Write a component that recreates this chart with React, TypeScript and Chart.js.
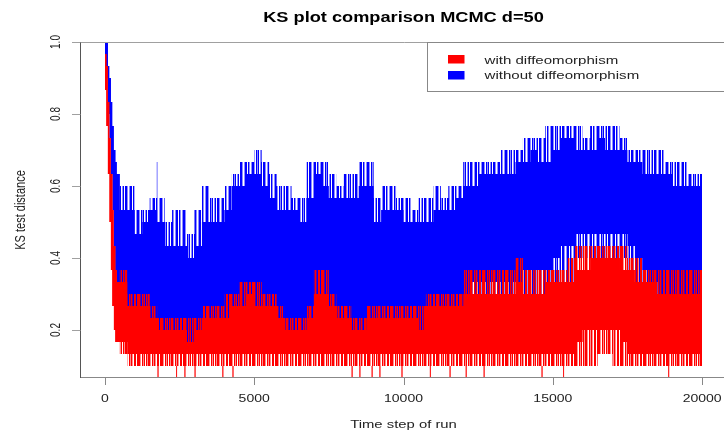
import React, { useEffect, useRef } from "react";
import { Chart, registerables } from "chart.js";

Chart.register(...registerables);

// ---------- text ----------
const TITLE = "KS plot comparison MCMC d=50";
const X_LABEL = "Time step of run";
const Y_LABEL = "KS test distance";
const SERIES_NAMES = ["with diffeomorphism", "without diffeomorphism"];
const SERIES_COLORS = ["#FF0000", "#0000FF"];

// ---------- axes ----------
const X_TICKS = [0, 5000, 10000, 15000, 20000];
const Y_TICKS = [0.2, 0.4, 0.6, 0.8, 1.0];
const X_MIN = -800;
const X_MAX = 20800;
const Y_MIN = 2 / 30;
const Y_MAX = 1.0;

// KS distances of a 30-sample test are multiples of 1/30; values below are counts k (distance = k/30)
const SAMPLE_N = 30;
const LAST_STEP = 20000;

// time step where each block of the trace starts (the trace is read block by block)
const STEPS = [
  0, 50, 100, 150, 200, 250, 300, 350, 400, 450,
  500, 750, 1000, 1250, 1500, 1750, 2000, 2250, 2500, 2750,
  3000, 3250, 3500, 3750, 4000, 4250, 4500, 4750, 5000, 5250,
  5500, 5750, 6000, 6250, 6500, 6750, 7000, 7250, 7500, 7750,
  8000, 8250, 8500, 8750, 9000, 9250, 9500, 9750, 10000, 10250,
  10500, 10750, 11000, 11250, 11500, 11750, 12000, 12250, 12500, 12750,
  13000, 13250, 13500, 13750, 14000, 14250, 14500, 14750, 15000, 15250,
  15500, 15750, 16000, 16250, 16500, 16750, 17000, 17250, 17500, 17750,
  18000, 18250, 18500, 18750, 19000, 19250, 19500, 19750,
];

// "without diffeomorphism" (blue): highest / dense-top / dense-bottom / lowest level in each block
const BLUE_MAX = [
  30, 30, 28, 27, 25, 23, 21, 20, 19, 19,
  18, 18, 16, 16, 17, 17, 15, 16, 16, 14,
  16, 18, 17, 17, 18, 19, 20, 20, 21, 20,
  19, 18, 18, 17, 17, 20, 20, 20, 19, 18,
  19, 19, 20, 20, 17, 18, 18, 17, 17, 16,
  17, 17, 18, 17, 18, 18, 20, 20, 20, 20,
  20, 21, 21, 21, 22, 22, 22, 23, 23, 23,
  23, 23, 22, 23, 23, 23, 23, 22, 21, 21,
  21, 21, 21, 20, 20, 20, 19, 19,
];
const BLUE_HIGH = [
  30, 30, 28, 27, 25, 23, 21, 20, 19, 19,
  16, 16, 14, 15, 16, 15, 13, 13, 13, 12,
  13, 15, 15, 15, 16, 18, 18, 19, 19, 18,
  17, 16, 16, 16, 15, 17, 19, 18, 17, 17,
  17, 17, 18, 18, 15, 16, 16, 16, 15, 15,
  15, 15, 16, 16, 16, 17, 18, 18, 19, 19,
  19, 19, 19, 20, 20, 21, 20, 20, 21, 22,
  22, 21, 21, 21, 22, 21, 21, 21, 20, 20,
  19, 19, 19, 19, 18, 18, 18, 18,
];
const BLUE_LOW = [
  28, 27, 24, 22, 19, 16, 13, 11, 10, 9,
  8, 7, 7, 7, 7, 6, 6, 6, 6, 5,
  6, 6, 7, 7, 7, 7, 7, 7, 7, 7,
  7, 6, 6, 5, 5, 6, 8, 8, 7, 7,
  7, 6, 6, 6, 6, 6, 6, 6, 6, 6,
  5, 6, 6, 6, 6, 6, 9, 10, 10, 10,
  10, 10, 10, 10, 11, 11, 11, 11, 12, 13,
  13, 14, 14, 14, 14, 14, 14, 14, 13, 12,
  11, 10, 9, 9, 9, 9, 9, 9,
];
const BLUE_MIN = [
  28, 27, 24, 22, 19, 16, 13, 11, 10, 9,
  7, 6, 6, 6, 6, 5, 5, 5, 5, 4,
  5, 5, 6, 6, 6, 6, 6, 5, 6, 6,
  6, 5, 5, 4, 4, 5, 7, 7, 6, 6,
  6, 5, 5, 5, 5, 5, 5, 5, 5, 5,
  4, 5, 5, 5, 5, 5, 8, 8, 8, 8,
  8, 8, 8, 8, 9, 9, 9, 9, 10, 10,
  10, 12, 12, 12, 12, 12, 12, 12, 11, 10,
  9, 8, 8, 8, 7, 7, 7, 7,
];

// "with diffeomorphism" (red)
const RED_MAX = [
  29, 28, 25, 22, 19, 16, 13, 11, 10, 10,
  11, 9, 9, 9, 8, 7, 7, 7, 7, 7,
  7, 8, 8, 8, 9, 9, 10, 10, 10, 9,
  9, 8, 7, 7, 7, 8, 11, 11, 9, 8,
  8, 7, 7, 8, 8, 8, 8, 8, 8, 8,
  8, 9, 9, 9, 9, 9, 11, 11, 11, 11,
  11, 11, 11, 12, 11, 11, 11, 11, 11, 11,
  12, 13, 13, 13, 13, 13, 13, 13, 12, 12,
  11, 11, 11, 11, 11, 11, 11, 11,
];
const RED_HIGH = [
  29, 28, 25, 22, 19, 16, 13, 11, 10, 10,
  10, 8, 8, 8, 7, 6, 6, 6, 6, 5,
  6, 7, 7, 7, 7, 8, 8, 9, 8, 8,
  8, 7, 6, 6, 6, 7, 9, 9, 8, 7,
  7, 6, 6, 7, 7, 7, 7, 7, 7, 7,
  6, 8, 8, 8, 8, 8, 9, 9, 9, 9,
  9, 9, 9, 10, 9, 9, 9, 10, 10, 10,
  10, 11, 11, 12, 12, 12, 12, 11, 11, 10,
  10, 10, 9, 9, 9, 9, 9, 9,
];
const RED_LOW = [
  26, 23, 19, 15, 11, 8, 6, 5, 5, 5,
  5, 4, 4, 4, 4, 4, 4, 4, 4, 4,
  4, 4, 4, 4, 4, 4, 4, 4, 4, 4,
  4, 4, 4, 4, 4, 4, 4, 4, 4, 4,
  4, 4, 4, 4, 4, 4, 4, 4, 4, 4,
  4, 4, 4, 4, 4, 4, 4, 4, 4, 4,
  4, 4, 4, 4, 4, 4, 4, 4, 4, 4,
  4, 5, 6, 6, 6, 6, 6, 5, 4, 4,
  4, 4, 4, 4, 4, 4, 4, 4,
];
const RED_MIN = [
  26, 23, 19, 15, 11, 8, 6, 5, 5, 5,
  4, 3, 3, 3, 3, 3, 3, 3, 3, 3,
  3, 3, 3, 3, 3, 3, 3, 3, 3, 3,
  3, 3, 3, 3, 3, 3, 3, 3, 3, 3,
  3, 3, 3, 3, 3, 3, 3, 3, 3, 3,
  3, 3, 3, 3, 3, 3, 3, 3, 3, 3,
  3, 3, 3, 3, 3, 3, 3, 3, 3, 3,
  3, 3, 3, 3, 4, 4, 3, 3, 3, 3,
  3, 3, 3, 3, 3, 3, 3, 3,
];

// isolated excursions of the traces
const RED_DIP_STEPS = [1780, 2400, 2680, 3020, 3950, 4290, 8280, 8540, 8950, 9210, 9950, 10900, 11560, 12100, 12700, 14640, 15360, 18880];
const RED_DIP_FROM = 3;
const RED_DIP_TO = 2;
const BLUE_SPIKE_STEPS = [1750];
const BLUE_SPIKE_FROM = [17];
const BLUE_SPIKE_TO = [20];

// ---------- helpers ----------
function toPoints(levels: number[]) {
  const pts = STEPS.map((s, i) => ({ x: s, y: levels[i] / SAMPLE_N }));
  pts.push({ x: LAST_STEP, y: levels[levels.length - 1] / SAMPLE_N });
  return pts;
}

const NONE = "rgba(0,0,0,0)";

function band(hi: number[], lo: number[], fillStyle: any, label: string) {
  return [
    {
      label,
      data: toPoints(hi),
      stepped: true,
      fill: "+1",
      backgroundColor: fillStyle,
      borderColor: NONE,
      borderWidth: 0,
      pointRadius: 0,
    },
    {
      label: label + " (lower)",
      data: toPoints(lo),
      stepped: true,
      fill: false,
      borderColor: NONE,
      borderWidth: 0,
      pointRadius: 0,
    },
  ];
}

function spikes(steps: number[], from: number[] | number, to: number[] | number) {
  const pts: any[] = [];
  steps.forEach((s, i) => {
    const a = Array.isArray(from) ? from[i] : from;
    const b = Array.isArray(to) ? to[i] : to;
    pts.push({ x: s, y: a / SAMPLE_N });
    pts.push({ x: s, y: b / SAMPLE_N });
    pts.push({ x: s + 1, y: null });
  });
  return pts;
}

// vertical-stripe texture for the sparse edges of a dense trace
function stripePattern(ctx: CanvasRenderingContext2D, rgb: string, mask: string) {
  const c = document.createElement("canvas");
  c.width = mask.length;
  c.height = 1;
  const g = c.getContext("2d")!;
  for (let i = 0; i < mask.length; i++) {
    const m = mask[i];
    if (m === "0") continue;
    g.fillStyle = m === "1" ? `rgb(${rgb})` : `rgba(${rgb},0.45)`;
    g.fillRect(i, 0, 1, 1);
  }
  return ctx.createPattern(c, "repeat");
}

function hText(ctx: CanvasRenderingContext2D, text: string, x: number, y: number, sx: number, align: CanvasTextAlign) {
  ctx.save();
  ctx.translate(x, y);
  ctx.scale(sx, 1);
  ctx.textAlign = align;
  ctx.textBaseline = "alphabetic";
  ctx.fillText(text, 0, 0);
  ctx.restore();
}

function vText(ctx: CanvasRenderingContext2D, text: string, x: number, y: number, sx: number) {
  ctx.save();
  ctx.translate(x, y);
  ctx.rotate(-Math.PI / 2);
  ctx.scale(1, sx);
  ctx.textAlign = "center";
  ctx.textBaseline = "alphabetic";
  ctx.fillText(text, 0, 0);
  ctx.restore();
}

const FONT = '"Liberation Sans", Arial, Helvetica, sans-serif';

const decorPlugin = {
  id: "rDecor",
  afterDraw(chart: any) {
    const ctx: CanvasRenderingContext2D = chart.ctx;
    const { left, top, right, bottom } = chart.chartArea;
    const xs = chart.scales.x;
    const ys = chart.scales.y;
    ctx.save();
    ctx.lineWidth = 1;

    // box
    ctx.strokeStyle = "#a0a0a0";
    ctx.beginPath();
    ctx.moveTo(left - 0.5, top + 0.5);
    ctx.lineTo(right + 2, top + 0.5);
    ctx.stroke();
    ctx.strokeStyle = "#888888";
    ctx.beginPath();
    ctx.moveTo(left - 0.5, bottom - 0.5);
    ctx.lineTo(right + 2, bottom - 0.5);
    ctx.stroke();
    ctx.strokeStyle = "#555555";
    ctx.beginPath();
    ctx.moveTo(left - 0.5, top);
    ctx.lineTo(left - 0.5, bottom);
    ctx.stroke();

    // ticks
    ctx.strokeStyle = "#888888";
    X_TICKS.forEach((v) => {
      const px = Math.round(xs.getPixelForValue(v)) + 0.5;
      ctx.beginPath();
      ctx.moveTo(px, bottom - 0.5);
      ctx.lineTo(px, bottom + 7);
      ctx.stroke();
    });
    ctx.strokeStyle = "#a0a0a0";
    Y_TICKS.forEach((v) => {
      const py = Math.round(ys.getPixelForValue(v)) + 0.5;
      ctx.beginPath();
      ctx.moveTo(left - 0.5, py);
      ctx.lineTo(left - 9, py);
      ctx.stroke();
    });

    // tick labels
    ctx.fillStyle = "#222222";
    ctx.font = `10px ${FONT}`;
    X_TICKS.forEach((v) => {
      hText(ctx, String(v), xs.getPixelForValue(v), 401.5, 1.4, "center");
    });
    Y_TICKS.forEach((v) => {
      vText(ctx, v.toFixed(1), 60, ys.getPixelForValue(v), 1.4);
    });

    // axis titles
    ctx.font = `11px ${FONT}`;
    const cx = (left + right) / 2;
    hText(ctx, X_LABEL, cx, 428, 1.35, "center");
    vText(ctx, Y_LABEL, 25, (top + bottom) / 2, 1.35);

    // main title
    ctx.fillStyle = "#000000";
    ctx.font = `bold 14px ${FONT}`;
    hText(ctx, TITLE, cx, 21.5, 1.3, "center");

    // legend
    ctx.fillStyle = "#ffffff";
    ctx.fillRect(428, 43, 400, 48);
    ctx.strokeStyle = "#888888";
    ctx.strokeRect(427.5, top + 0.5, 400, 49);
    const swatchY = [55, 71];
    const textY = [63.5, 79];
    SERIES_NAMES.forEach((name, i) => {
      ctx.fillStyle = SERIES_COLORS[i];
      ctx.fillRect(448, swatchY[i], 16.5, 8.5);
      ctx.fillStyle = "#222222";
      ctx.font = `11px ${FONT}`;
      hText(ctx, name, 484.5, textY[i], 1.37, "left");
    });

    ctx.restore();
  },
};

export default function App() {
  const ref = useRef<HTMLCanvasElement | null>(null);

  useEffect(() => {
    if (!ref.current) return;
    const ctx = ref.current.getContext("2d")!;
    const redStripes = stripePattern(ctx, "255,0,0", "11h01h101h11h01h1h01101");
    const blueStripes = stripePattern(ctx, "0,0,255", "1h01h10h1011h0h1101h0h1");

    const datasets: any[] = [
      {
        label: "red dips",
        data: spikes(RED_DIP_STEPS, RED_DIP_FROM, RED_DIP_TO),
        borderColor: "rgba(255,0,0,0.55)",
        borderWidth: 1,
        pointRadius: 0,
        fill: false,
        spanGaps: false,
      },
      {
        label: "blue spikes",
        data: spikes(BLUE_SPIKE_STEPS, BLUE_SPIKE_FROM, BLUE_SPIKE_TO),
        borderColor: "rgba(0,0,255,0.55)",
        borderWidth: 1,
        pointRadius: 0,
        fill: false,
        spanGaps: false,
      },
      ...band(RED_HIGH, RED_LOW, SERIES_COLORS[0], SERIES_NAMES[0]),
      ...band(RED_MAX, RED_MIN, redStripes, SERIES_NAMES[0] + " (excursions)"),
      ...band(BLUE_HIGH, BLUE_LOW, SERIES_COLORS[1], SERIES_NAMES[1]),
      ...band(BLUE_MAX, BLUE_MIN, blueStripes, SERIES_NAMES[1] + " (excursions)"),
    ];

    const chart = new Chart(ref.current, {
      type: "line",
      data: { datasets },
      options: {
        animation: false,
        responsive: false,
        devicePixelRatio: 1,
        layout: { padding: { left: 81, top: 42, right: 2, bottom: 57 } },
        scales: {
          x: { type: "linear", min: X_MIN, max: X_MAX, display: false },
          y: { type: "linear", min: Y_MIN, max: Y_MAX, display: false },
        },
        plugins: {
          legend: { display: false },
          tooltip: { enabled: false },
          title: { display: false },
        },
        elements: { line: { tension: 0 } },
      },
      plugins: [decorPlugin],
    });
    return () => chart.destroy();
  }, []);

  return (
    <div
      style={{
        position: "fixed",
        left: 0,
        top: 0,
        width: 724,
        height: 435,
        overflow: "hidden",
        background: "#ffffff",
      }}
    >
      <canvas ref={ref} width={728} height={435} style={{ display: "block" }} />
    </div>
  );
}
